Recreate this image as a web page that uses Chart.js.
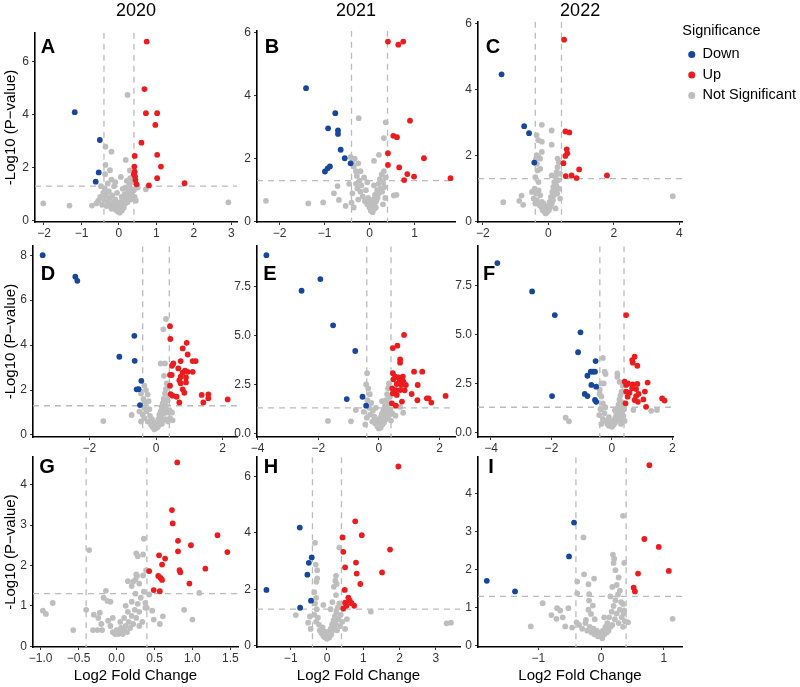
<!DOCTYPE html>
<html><head><meta charset="utf-8">
<script src="https://cdn.jsdelivr.net/npm/chart.js@4.4.1/dist/chart.umd.min.js"></script>
<style>
html,body{margin:0;padding:0;background:#fff;overflow:hidden;width:800px;height:687px;position:relative;}
canvas{position:absolute;}
</style></head><body>
<script>
// ---------------- DATA (log2 fold change, -log10 p) ----------------
const YEARS = ['2020','2021','2022'];
const SERIES = ['Down','Up','Not Significant'];
const FC_CUT = 0.4;
const P_CUT = 1.30103;

const A_down = [[-1.18,4.09],[-0.51,3.04],[-0.54,1.82],[-0.62,1.47]];
const A_up = [[0.74,6.75],[0.68,4.96],[0.72,4.05],[1.02,4.05],[0.97,3.61],[0.60,2.94],[1.02,2.48],[0.42,2.44],[1.12,2.04],[0.41,2.04],[0.42,1.85],[0.43,1.66],[0.44,1.53],[0.47,1.37],[1.02,1.60],[0.80,1.33],[1.75,1.41],[0.40,1.75]];
const A_ns = [[0.23,4.74],[-0.36,2.79],[-0.20,2.60],[0.18,2.29],[-0.36,2.10],[0.29,1.89],[-2.02,0.65],[-1.32,0.57],[2.92,0.69],[-0.72,0.57],[0.72,1.18],
 [-0.55,0.75],[-0.5,0.9],[-0.45,0.6],[-0.42,1.05],[-0.4,0.8],[-0.38,1.2],[-0.35,0.95],[-0.33,0.55],[-0.3,0.7],[-0.3,1.4],[-0.27,1.1],[-0.25,0.85],[-0.22,0.6],[-0.2,1.55],[-0.2,0.45],[-0.18,0.95],[-0.15,0.7],[-0.13,1.3],[-0.12,0.5],[-0.1,0.8],[-0.08,0.4],[-0.06,0.6],[-0.05,1.05],[-0.03,0.35],[0,0.5],[0.02,0.3],[0.03,0.7],[0.05,0.45],[0.07,0.9],[0.08,0.38],[0.1,0.6],[0.12,0.8],[0.13,0.5],[0.15,1.0],[0.17,0.65],[0.18,1.25],[0.2,0.85],[0.21,1.5],[0.23,0.7],[0.25,1.1],[0.27,0.95],[0.28,1.35],[0.3,1.6],[0.31,0.8],[0.33,1.2],[0.35,1.0],[0.36,1.45],[0.38,1.7],[0.4,1.15],[0.42,0.9],[0.45,0.75],[0.5,1.25],[-0.6,0.65],[-0.48,1.3],[-0.37,1.75],[-0.24,1.9],[0.1,1.2],[-0.1,1.45],[0.05,1.65]];

const B_down = [[-1.41,4.23],[-0.76,3.44],[-0.92,2.96],[-0.70,2.89],[-0.70,2.78],[-0.64,2.28],[-0.55,2.01],[-0.42,1.85],[-0.88,1.75],[-0.93,1.69],[-0.99,1.59]];
const B_up = [[0.41,5.71],[0.64,5.61],[0.75,5.71],[0.90,3.20],[0.53,2.72],[0.61,2.68],[0.41,2.17],[1.21,2.01],[0.41,1.80],[0.66,1.72],[0.84,1.51],[0.99,1.43],[0.77,1.32],[1.80,1.38]];
const B_ns = [[-0.24,3.28],[0.36,3.15],[0.32,2.65],[0.21,2.12],[0.10,1.93],[-2.30,0.66],[-1.36,0.58],[-1.03,0.61],[-0.79,0.90],[-0.68,0.69],[-0.53,0.50],[-0.71,1.13],[0.54,0.83],[0.60,0.85],
 [-0.42,2.05],[-0.38,1.9],[-0.35,1.75],[-0.33,2.0],[-0.3,1.6],[-0.28,1.45],[-0.25,1.85],[-0.3,1.2],[-0.27,1.05],[-0.22,1.3],[-0.2,1.6],[-0.18,1.15],[-0.2,0.95],[-0.15,0.8],[-0.12,1.4],[-0.1,0.65],[-0.08,1.0],[-0.05,0.55],[-0.03,0.75],[0,0.45],[0.02,0.6],[0.03,0.35],[0.05,0.5],[0.07,0.3],[0.08,0.7],[0.1,0.4],[0.11,0.55],[0.12,0.85],[0.14,0.45],[0.15,0.65],[0.17,1.0],[0.18,0.75],[0.2,1.2],[0.21,0.9],[0.23,1.35],[0.25,1.05],[0.27,1.5],[0.28,0.95],[0.3,1.25],[0.32,1.6],[0.33,1.1],[0.35,0.75],[0.36,1.4],[-0.4,0.6],[-0.35,0.45],[-0.45,1.2],[-0.38,0.9],[-0.25,0.7],[0.1,1.15],[-0.05,1.25],[0.3,0.55]];

const C_down = [[-1.43,4.46],[-0.74,2.89],[-0.59,2.68],[-0.43,1.79]];
const C_up = [[0.48,5.51],[0.52,2.73],[0.64,2.70],[0.56,2.19],[0.58,2.07],[0.52,1.99],[0.46,1.77],[0.53,1.38],[0.71,1.40],[0.94,1.58],[0.86,1.32],[1.79,1.40]];
const C_ns = [[-0.20,2.93],[0.10,2.76],[-0.36,2.62],[-0.31,2.47],[-0.20,2.42],[0.10,2.33],[-0.20,2.11],[-0.36,2.01],[-0.25,1.91],[0.28,1.91],[-1.38,0.59],[-0.82,0.79],[-0.89,0.63],[-0.77,0.51],[3.80,0.77],
 [-0.38,1.9],[-0.35,1.75],[-0.33,1.55],[-0.4,1.35],[-0.3,1.2],[-0.42,1.0],[-0.38,0.85],[-0.45,0.7],[-0.35,0.65],[-0.3,0.95],[-0.27,0.5],[-0.25,0.8],[-0.22,0.45],[-0.2,0.6],[-0.18,0.35],[-0.15,0.55],[-0.12,0.3],[-0.1,0.45],[-0.08,0.25],[-0.05,0.4],[-0.03,0.3],[0,0.5],[0.02,0.35],[0.04,0.6],[0.06,0.45],[0.08,0.75],[0.1,0.55],[0.12,0.9],[0.14,0.65],[0.15,1.05],[0.17,0.8],[0.18,1.2],[0.2,0.95],[0.22,1.35],[0.24,1.1],[0.25,1.5],[0.27,0.85],[0.28,1.65],[0.3,1.25],[0.32,1.8],[0.33,1.0],[0.35,1.45],[0.36,0.7],[-0.5,0.9],[-0.4,0.55],[0.1,1.4],[-0.25,1.6],[-0.3,1.95],[0.22,0.4]];

const D_down = [[-3.40,8.0],[-2.42,7.04],[-2.36,6.86],[-0.65,4.41],[-1.10,3.48],[-0.64,3.30],[-0.44,2.41],[-0.58,2.03],[-0.52,2.04],[-0.48,1.33]];
const D_up = [[0.42,4.84],[0.43,4.27],[0.92,4.10],[0.80,3.85],[0.95,3.58],[0.52,3.18],[0.48,3.08],[0.74,3.29],[1.10,3.29],[1.19,3.29],[0.67,2.96],[0.87,2.86],[0.95,2.81],[0.80,2.77],[1.10,2.81],[0.42,2.67],[0.47,2.67],[0.74,2.59],[0.90,2.56],[0.70,2.44],[0.74,2.30],[0.90,2.34],[0.42,2.19],[0.80,2.03],[0.85,1.88],[0.44,1.82],[0.50,1.75],[0.62,1.70],[1.37,1.78],[1.57,1.81],[1.57,1.63],[1.42,1.45],[0.70,1.45],[2.15,1.58]];
const D_ns = [[0.30,5.16],[0.22,4.70],[0.14,3.18],[0.27,3.18],[0.24,2.63],[-1.58,0.62],[-0.73,0.89],
 [-0.35,2.2],[-0.3,2.0],[-0.25,1.8],[-0.38,1.6],[-0.3,1.45],[-0.22,1.5],[-0.35,1.2],[-0.28,1.05],[-0.4,0.9],[-0.45,0.6],[-0.35,0.75],[-0.2,1.15],[-0.25,0.6],[-0.18,0.85],[-0.15,0.45],[-0.12,0.7],[-0.1,0.35],[-0.08,0.55],[-0.05,0.25],[-0.02,0.45],[0,0.3],[0.03,0.55],[0.05,0.35],[0.07,0.7],[0.09,0.45],[0.1,0.9],[0.12,0.6],[0.14,1.05],[0.15,0.75],[0.17,1.25],[0.18,0.5],[0.2,1.4],[0.22,0.95],[0.23,1.6],[0.25,1.15],[0.27,1.85],[0.28,0.7],[0.3,2.05],[0.3,1.3],[0.32,2.3],[0.33,1.0],[0.35,1.55],[0.36,0.6],[0.38,1.75],[0.4,1.1],[0.42,0.75],[0.5,0.65],[0.48,1.0],[-0.5,1.05],[-0.45,1.85]];

const E_down = [[-3.71,9.11],[-1.93,7.89],[-2.55,7.29],[-1.51,5.52],[-0.78,4.21],[-1.06,1.75],[-0.54,1.87],[-0.42,1.41]];
const E_up = [[0.83,5.03],[0.61,4.48],[0.46,4.36],[0.70,3.78],[0.70,3.61],[1.16,3.15],[1.43,3.15],[0.46,3.07],[0.54,2.90],[0.65,2.86],[0.79,2.90],[0.48,2.76],[0.68,2.69],[0.81,2.64],[0.59,2.52],[0.75,2.47],[0.89,2.47],[1.28,2.47],[0.44,2.30],[0.57,2.21],[0.70,2.21],[0.85,2.20],[1.08,2.01],[0.46,2.04],[0.59,1.96],[1.27,1.69],[1.58,1.79],[1.64,1.79],[1.73,1.57],[2.20,1.91],[0.43,1.53],[0.56,1.41],[0.76,1.62]];
const E_ns = [[-0.39,3.07],[-1.68,0.63],[-0.92,0.61],[-0.76,1.19],
 [-0.42,2.5],[-0.35,2.3],[-0.3,2.0],[-0.38,1.7],[-0.25,1.55],[-0.32,1.3],[-0.2,1.15],[-0.28,0.95],[-0.4,0.8],[-0.15,0.85],[-0.22,0.6],[-0.12,0.5],[-0.08,0.7],[-0.05,0.35],[-0.02,0.55],[0,0.25],[0.03,0.45],[0.05,0.8],[0.06,0.3],[0.08,0.6],[0.1,1.0],[0.12,0.45],[0.13,0.75],[0.15,1.2],[0.17,0.55],[0.18,0.95],[0.2,1.4],[0.22,0.7],[0.23,1.7],[0.25,1.1],[0.27,2.0],[0.28,1.3],[0.3,2.3],[0.3,0.85],[0.32,1.55],[0.33,2.55],[0.35,1.0],[0.36,1.85],[0.38,1.2],[0.4,0.65],[0.45,1.0],[0.55,0.9],[0.8,1.05],[0.7,1.35],[-0.5,1.1],[-0.1,1.3],[0.1,1.65],[-0.45,0.45]];

const F_down = [[-3.79,8.67],[-2.64,7.22],[-1.89,6.01],[-1.04,5.13],[-1.12,4.11],[-0.54,3.66],[-0.70,3.12],[-0.63,3.12],[-0.56,3.12],[-0.81,2.91],[-0.68,2.44],[-0.52,2.35],[-1.98,1.87],[-0.90,1.98],[-0.81,1.87],[-0.56,1.67],[-0.52,1.58]];
const F_up = [[0.47,6.01],[0.75,3.88],[0.67,3.71],[0.69,3.58],[0.84,3.42],[0.42,2.61],[0.47,2.44],[0.53,2.52],[0.69,2.47],[0.84,2.49],[0.67,2.27],[0.80,2.23],[1.18,2.56],[0.47,2.10],[0.58,2.04],[0.52,1.84],[0.88,1.98],[0.80,1.87],[0.75,1.67],[0.86,1.58],[1.09,2.10],[1.04,1.70],[0.45,1.50],[1.66,1.75],[1.74,1.64],[1.13,1.32]];
const F_ns = [[-0.30,3.82],[-0.24,3.12],[-0.21,3.0],[0.18,3.03],[0.18,2.86],[-0.35,2.52],[-0.27,2.52],[-0.41,1.98],[-1.53,0.77],[-1.42,0.58],[1.30,1.12],[1.49,1.16],[0.71,1.16],
 [-0.4,2.2],[-0.35,1.85],[-0.3,1.5],[-0.38,1.2],[-0.25,1.0],[-0.42,0.9],[-0.3,0.7],[-0.2,0.6],[-0.15,0.45],[-0.1,0.35],[-0.05,0.55],[0,0.3],[0.02,0.5],[0.05,0.4],[0.07,0.65],[0.1,0.5],[0.12,0.8],[0.14,0.6],[0.15,1.0],[0.17,0.75],[0.18,1.25],[0.2,0.9],[0.22,1.45],[0.24,1.1],[0.25,1.7],[0.27,0.7],[0.28,1.9],[0.3,1.3],[0.32,2.1],[0.33,1.0],[0.35,1.55],[0.36,2.4],[0.38,0.85],[0.4,1.2],[0.42,0.6],[-0.22,1.3],[0.1,1.15],[-0.1,0.8],[0.3,0.45],[-0.35,0.45],[0.25,2.6]];

const G_down = [];
const G_up = [[0.80,4.55],[0.73,3.37],[0.74,3.04],[0.81,2.61],[0.98,2.50],[1.33,2.75],[1.46,2.33],[0.81,2.35],[0.56,2.25],[0.64,2.17],[0.60,2.02],[1.17,1.92],[0.43,1.86],[0.83,1.88],[0.84,1.83],[0.55,1.74],[0.58,1.69],[0.60,1.64],[0.96,1.55],[0.49,1.39],[0.57,1.36]];
const G_ns = [[-0.36,2.38],[0.36,2.66],[0.26,2.30],[0.28,2.23],[0.35,2.27],[0.39,1.88],[0.26,1.78],[0.27,1.74],[0.25,1.65],[0.22,1.60],[0.20,1.49],[0.15,1.61],[-0.97,0.88],[-0.93,0.80],[-0.84,1.07],[-0.57,0.40],[-0.40,0.90],[-0.30,0.78],[-0.24,0.70],[-0.22,0.83],[-0.14,1.37],[-0.12,1.12],[-0.08,1.10],[-0.17,1.20],[-0.31,0.40],[-0.19,0.40],[-0.11,0.63],[0.89,0.90],[1.00,0.66],[1.09,1.32],[0.61,0.74],[0.57,0.55],[0.49,0.66],[0.47,0.88],[0.40,0.95],[0.38,1.07],[0.43,1.28],
 [-0.05,0.35],[-0.02,0.3],[0,0.4],[0.02,0.3],[0.04,0.35],[0.06,0.45],[0.08,0.3],[0.1,0.4],[0.12,0.5],[0.14,0.35],[0.16,0.6],[0.18,0.45],[0.2,0.75],[0.22,0.55],[0.24,0.9],[0.26,0.7],[0.28,1.05],[0.3,0.85],[0.32,1.2],[0.34,0.6],[0.36,1.35],[0.38,0.95],[0.3,0.5],[0.25,1.3],[0.15,0.85],[0.1,0.7],[0.05,0.6],[-0.08,0.5],[-0.05,0.7],[0.2,1.1],[0.3,1.55],[0.12,1.0],[0.35,1.75],[-0.2,0.55],[-0.25,0.4]];

const H_down = [[-0.75,4.19],[-0.42,3.13],[-0.50,2.94],[-0.54,2.52],[-1.67,1.98],[-0.44,1.60],[-0.74,1.35]];
const H_up = [[1.97,6.35],[0.78,4.41],[0.96,3.92],[0.43,3.84],[1.74,3.41],[0.45,3.33],[0.80,2.95],[0.50,2.78],[0.82,2.56],[1.52,2.60],[0.92,2.19],[0.49,1.98],[0.59,1.71],[0.63,1.60],[0.50,1.53],[0.68,1.51],[0.75,1.42],[0.54,1.42],[0.45,1.33]];
const H_ns = [[-0.33,3.65],[0.34,3.48],[-0.31,2.88],[-0.27,2.68],[-0.27,2.39],[-0.29,2.27],[0.25,2.48],[0.23,2.31],[0.27,2.19],[0.19,2.09],[3.30,0.80],[3.42,0.82],[1.21,1.21],[-0.86,1.09],[-0.52,0.82],[-0.47,1.04],
 [-0.35,1.9],[-0.3,1.7],[-0.33,1.5],[-0.28,1.3],[-0.35,1.1],[-0.25,1.0],[-0.3,0.85],[-0.22,0.75],[-0.2,0.55],[-0.15,0.45],[-0.12,0.65],[-0.1,0.35],[-0.07,0.5],[-0.05,0.3],[-0.02,0.4],[0,0.25],[0.02,0.35],[0.04,0.5],[0.06,0.3],[0.08,0.45],[0.1,0.6],[0.12,0.4],[0.14,0.75],[0.16,0.55],[0.18,0.9],[0.2,0.65],[0.22,1.05],[0.24,0.8],[0.26,1.2],[0.28,0.55],[0.3,1.35],[0.32,0.95],[0.34,1.5],[0.36,0.7],[0.38,1.1],[0.42,0.85],[0.5,0.6],[0.55,0.95],[0.1,1.3],[0.15,1.55],[0.25,1.8],[-0.1,1.45],[-0.45,0.6],[0.45,1.3]];

const I_down = [[-0.43,3.24],[-0.51,2.35],[-1.37,1.43],[-1.82,1.71]];
const I_up = [[0.77,4.75],[0.69,2.81],[0.92,2.60],[1.08,1.97],[0.59,1.90],[0.52,1.53],[0.54,1.43]];
const I_ns = [[0.35,3.42],[-0.28,2.85],[0.19,2.40],[0.21,2.29],[0.20,2.18],[0.37,2.18],[0.23,1.99],[-0.27,1.88],[-0.11,1.77],[-0.20,1.62],[-0.38,1.69],[-0.38,1.38],[-0.93,1.12],[-1.12,0.51],[-0.79,0.81],[-0.70,0.99],[-0.65,0.93],[-0.52,0.99],[-0.61,0.75],[-0.71,0.71],[-0.19,1.36],[-0.19,1.19],[-0.13,1.06],[-0.16,0.84],[-0.24,0.68],[1.14,0.71],[-0.57,0.51],[-0.46,0.48],[-0.39,0.62],[0.43,0.62],[0.37,0.93],[0.35,1.10],
 [-0.35,0.55],[-0.3,0.45],[-0.25,0.6],[-0.22,0.4],[-0.18,0.5],[-0.15,0.35],[-0.12,0.45],[-0.1,0.3],[-0.07,0.4],[-0.05,0.25],[-0.03,0.35],[0,0.3],[0.02,0.2],[0.03,0.4],[0.05,0.3],[0.07,0.5],[0.09,0.35],[0.1,0.6],[0.12,0.4],[0.13,0.75],[0.15,0.5],[0.17,0.9],[0.18,0.55],[0.2,1.05],[0.22,0.7],[0.23,1.2],[0.25,0.85],[0.27,1.35],[0.28,0.6],[0.3,0.95],[0.32,1.15],[0.33,0.75],[0.35,0.5],[0.36,0.85],[0.38,0.65],[0.15,1.3],[0.18,1.55],[0.25,1.6],[0.3,1.45],[-0.1,0.7],[0.05,0.75],[-0.2,0.95],[0.28,1.8]];

// tick values and labels
const A_xTicks=[-2,-1,0,1,2,3], A_xLabels=['\u22122','\u22121','0','1','2','3'];
const A_yTicks=[0,2,4,6], A_yLabels=['0','2','4','6'];
const B_xTicks=[-2,-1,0,1], B_xLabels=['\u22122','\u22121','0','1'];
const B_yTicks=[0,2,4,6], B_yLabels=['0','2','4','6'];
const C_xTicks=[-2,0,2,4], C_xLabels=['\u22122','0','2','4'];
const C_yTicks=[0,2,4,6], C_yLabels=['0','2','4','6'];
const D_xTicks=[-2,0,2], D_xLabels=['\u22122','0','2'];
const D_yTicks=[0,2,4,6,8], D_yLabels=['0','2','4','6','8'];
const E_xTicks=[-4,-2,0,2], E_xLabels=['\u22124','\u22122','0','2'];
const E_yTicks=[0,2.5,5,7.5], E_yLabels=['0.0','2.5','5.0','7.5'];
const F_xTicks=[-4,-2,0,2], F_xLabels=['\u22124','\u22122','0','2'];
const F_yTicks=[0,2.5,5,7.5], F_yLabels=['0.0','2.5','5.0','7.5'];
const G_xTicks=[-1,-0.5,0,0.5,1,1.5], G_xLabels=['\u22121.0','\u22120.5','0.0','0.5','1.0','1.5'];
const G_yTicks=[0,1,2,3,4], G_yLabels=['0','1','2','3','4'];
const H_xTicks=[-1,0,1,2,3], H_xLabels=['\u22121','0','1','2','3'];
const H_yTicks=[0,2,4,6], H_yLabels=['0','2','4','6'];
const I_xTicks=[-1,0,1], I_xLabels=['\u22121','0','1'];
const I_yTicks=[0,1,2,3,4], I_yLabels=['0','1','2','3','4'];

// ---------------- STYLE / LAYOUT ----------------
const FONT = "'Liberation Sans', Arial, Helvetica, sans-serif";
const COLORS = ['#16479B', '#EC1C1E', '#BEBEBE'];
const LINE_COL = '#BBBBBB';
const PT_R = 2.9;

const PANELS = [
 {key:'A', row:0, col:0, L:35,  T:33,  R:237, B:222, xr:[-2.24,3.15], yr:[-0.05,7.08], lx:48,  ly:48,  head:YEARS[0], d:[A_down,A_up,A_ns], xt:[A_xTicks,A_xLabels], yt:[A_yTicks,A_yLabels]},
 {key:'B', row:0, col:1, L:257, T:31,  R:455, B:222, xr:[-2.50,1.90], yr:[-0.01,6.05], lx:272, ly:48,  head:YEARS[1], d:[B_down,B_up,B_ns], xt:[B_xTicks,B_xLabels], yt:[B_yTicks,B_yLabels]},
 {key:'C', row:0, col:2, L:478, T:22,  R:682, B:222, xr:[-2.15,4.09], yr:[-0.01,6.05], lx:493, ly:48,  head:YEARS[2], legend:true, d:[C_down,C_up,C_ns], xt:[C_xTicks,C_xLabels], yt:[C_yTicks,C_yLabels]},
 {key:'D', row:1, col:0, L:33,  T:246, R:237, B:437, xr:[-3.69,2.43], yr:[-0.09,8.4],  lx:48,  ly:274, d:[D_down,D_up,D_ns], xt:[D_xTicks,D_xLabels], yt:[D_yTicks,D_yLabels]},
 {key:'E', row:1, col:1, L:257, T:246, R:455, B:437, xr:[-4.02,2.51], yr:[-0.19,9.57], lx:270, ly:274, d:[E_down,E_up,E_ns], xt:[E_xTicks,E_xLabels], yt:[E_yTicks,E_yLabels]},
 {key:'F', row:1, col:2, L:478, T:246, R:673, B:437, xr:[-4.43,2.02], yr:[-0.22,9.53], lx:489, ly:274, d:[F_down,F_up,F_ns], xt:[F_xTicks,F_xLabels], yt:[F_yTicks,F_yLabels]},
 {key:'G', row:2, col:0, L:33,  T:457, R:238, B:647, xr:[-1.10,1.60], yr:[-0.02,4.68], lx:47,  ly:467, d:[G_down,G_up,G_ns], xt:[G_xTicks,G_xLabels], yt:[G_yTicks,G_yLabels]},
 {key:'H', row:2, col:1, L:257, T:457, R:460, B:647, xr:[-1.93,3.67], yr:[-0.04,6.68], lx:271, ly:467, d:[H_down,H_up,H_ns], xt:[H_xTicks,H_xLabels], yt:[H_yTicks,H_yLabels]},
 {key:'I', row:2, col:2, L:478, T:457, R:682, B:647, xr:[-1.96,1.29], yr:[-0.03,4.96], lx:491, ly:467, d:[I_down,I_up,I_ns], xt:[I_xTicks,I_xLabels], yt:[I_yTicks,I_yLabels]},
];

const decor = {
  id: 'decor',
  beforeDatasetsDraw(chart, args, opts) {
    const {ctx, chartArea: a, scales: {x, y}} = chart;
    ctx.save();
    ctx.beginPath(); ctx.rect(a.left, a.top, a.right - a.left, a.bottom - a.top); ctx.clip();
    ctx.strokeStyle = LINE_COL; ctx.lineWidth = 1.3; ctx.setLineDash([6, 5]);
    [-FC_CUT, FC_CUT].forEach(v => {
      const px = x.getPixelForValue(v);
      ctx.beginPath(); ctx.moveTo(px, a.top); ctx.lineTo(px, a.bottom); ctx.stroke();
    });
    const py = y.getPixelForValue(P_CUT);
    ctx.beginPath(); ctx.moveTo(a.left, py); ctx.lineTo(a.right, py); ctx.stroke();
    ctx.restore();
  },
  afterDraw(chart, args, opts) {
    const {ctx, chartArea: a} = chart;
    ctx.save();
    ctx.font = 'bold 20px ' + FONT;
    ctx.fillStyle = '#000';
    ctx.textAlign = 'center'; ctx.textBaseline = 'middle';
    ctx.fillText(opts.letter, a.left + opts.dx, a.top + opts.dy);
    ctx.restore();
  }
};

function toPts(arr) { return arr.map(p => ({x: p[0], y: p[1]})); }

PANELS.forEach(p => {
  const canvas = document.createElement('canvas');
  document.body.appendChild(canvas);
  const yW = p.col === 0 ? p.L : 28;
  const xH = p.row === 2 ? (687 - p.B) : 24;
  const padTop = p.row === 0 ? 0 : 10;
  const padRight = p.legend ? 0 : 14;
  const titleTop = 1.5;
  const titleBottom = p.row === 0 ? (p.T - 22.3) : 0;
  const titleH = p.row === 0 ? (titleTop + 21.6 + titleBottom) : 0;
  canvas.width = Math.round((p.R - p.L) + yW + padRight + (p.legend ? 130 : 0));
  canvas.height = Math.round((p.B - p.T) + padTop + titleH + xH);
  canvas.style.left = (p.L - yW) + 'px';
  canvas.style.top = (p.T - padTop - titleH) + 'px';

  const datasets = SERIES.map((name, i) => ({
    label: name,
    data: toPts(p.d[i]),
    backgroundColor: COLORS[i],
    borderColor: COLORS[i],
    borderWidth: 0,
    pointRadius: PT_R,
    pointHoverRadius: PT_R,
    pointStyle: 'circle'
  }));

  const axisCommon = {
    type: 'linear',
    grid: {display: true, drawOnChartArea: false, drawTicks: true, tickLength: 3, color: '#333', lineWidth: 1},
    border: {display: true, color: '#000', width: 1.6},
  };

  const cfg = {
    type: 'scatter',
    data: {datasets},
    options: {
      responsive: false, maintainAspectRatio: false, animation: false, devicePixelRatio: 1,
      layout: {padding: {top: padTop, right: padRight, bottom: 0, left: 0}},
      events: [],
      plugins: {
        tooltip: {enabled: false},
        title: p.head ? {display: true, text: p.head, fullSize: false, color: '#000',
                         font: {family: FONT, size: 18, weight: 'normal'},
                         padding: {top: titleTop, bottom: titleBottom}} : {display: false},
        legend: p.legend ? {
          display: true, position: 'right', align: 'start', fullSize: false, maxWidth: 220,
          title: {display: true, text: 'Significance', color: '#000', position: 'start',
                  font: {family: FONT, size: 14.5}, padding: {top: 2, bottom: 0}},
          labels: {usePointStyle: true, pointStyle: 'circle', boxWidth: 7, boxHeight: 5,
                   padding: 6, color: '#000', font: {family: FONT, size: 14.5}}
        } : {display: false},
        decor: {letter: p.key, dx: p.lx - p.L, dy: p.ly - p.T}
      },
      scales: {
        x: Object.assign({}, axisCommon, {
          position: 'bottom', min: p.xr[0], max: p.xr[1],
          afterBuildTicks: s => { s.ticks = p.xt[0].map(v => ({value: v})); },
          afterFit: s => { s.height = xH; },
          ticks: {autoSkip: false, maxRotation: 0, padding: 1, color: '#333',
                  font: {family: FONT, size: 12}, callback: (v, i) => p.xt[1][i]},
          title: {display: p.row === 2, text: 'Log2 Fold Change', color: '#000',
                  font: {family: FONT, size: 15}, padding: {top: 0, bottom: 2}}
        }),
        y: Object.assign({}, axisCommon, {
          position: 'left', min: p.yr[0], max: p.yr[1],
          afterBuildTicks: s => { s.ticks = p.yt[0].map(v => ({value: v})); },
          afterFit: s => { s.width = yW; },
          ticks: {autoSkip: false, padding: 3, color: '#333',
                  font: {family: FONT, size: 12}, callback: (v, i) => p.yt[1][i]},
          title: {display: p.col === 0, text: '-Log10 (P\u2212value)', color: '#000',
                  font: {family: FONT, size: 15}, padding: {top: 2, bottom: 0}}
        })
      }
    },
    plugins: [decor]
  };

  const chart = new Chart(canvas, cfg);
  for (let k = 0; k < 3; k++) {
    const a = chart.chartArea;
    const dw = (p.R - p.L) - (a.right - a.left);
    const dh = (p.B - p.T) - (a.bottom - a.top);
    if (Math.abs(dw) < 0.5 && Math.abs(dh) < 0.5) break;
    chart.resize(Math.round(chart.width + dw), Math.round(chart.height + dh));
  }
  const a = chart.chartArea;
  canvas.style.left = (p.L - a.left) + 'px';
  canvas.style.top = (p.T - a.top) + 'px';
});
</script>
</body></html>
